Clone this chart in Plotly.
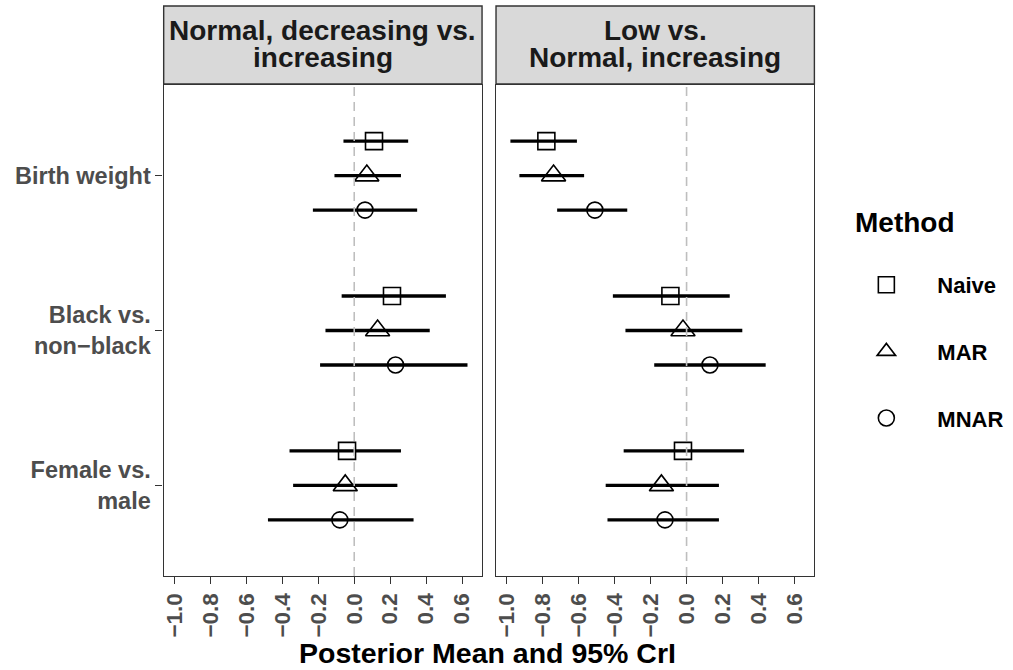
import plotly.graph_objects as go

# ---------------- data ----------------
methods = ["Naive", "MAR", "MNAR"]
covariates = ["Birth weight", "Black vs.<br>non\u2212black", "Female vs.<br>male"]
panels = ["Normal, decreasing vs.<br>increasing", "Low vs.<br>Normal, increasing"]

# Panel 1: Normal, decreasing vs. increasing  (order: Birth weight, Black, Female)
mean_p1_naive = [0.11, 0.21, -0.04]
lo_p1_naive = [-0.06, -0.07, -0.36]
hi_p1_naive = [0.30, 0.51, 0.26]
mean_p1_mar = [0.07, 0.13, -0.05]
lo_p1_mar = [-0.11, -0.16, -0.34]
hi_p1_mar = [0.26, 0.42, 0.24]
mean_p1_mnar = [0.06, 0.23, -0.08]
lo_p1_mnar = [-0.23, -0.19, -0.48]
hi_p1_mnar = [0.35, 0.63, 0.33]

# Panel 2: Low vs. Normal, increasing
mean_p2_naive = [-0.78, -0.09, -0.02]
lo_p2_naive = [-0.98, -0.41, -0.35]
hi_p2_naive = [-0.61, 0.24, 0.32]
mean_p2_mar = [-0.74, -0.02, -0.14]
lo_p2_mar = [-0.93, -0.34, -0.45]
hi_p2_mar = [-0.57, 0.31, 0.18]
mean_p2_mnar = [-0.51, 0.13, -0.12]
lo_p2_mnar = [-0.72, -0.18, -0.44]
hi_p2_mnar = [-0.33, 0.44, 0.18]

x_ticks = [-1.0, -0.8, -0.6, -0.4, -0.2, 0.0, 0.2, 0.4, 0.6]
x_tick_text = [("\u2212" if v < 0 else "") + f"{abs(v):.1f}" for v in x_ticks]

data = {
    0: {"Naive": (mean_p1_naive, lo_p1_naive, hi_p1_naive),
        "MAR": (mean_p1_mar, lo_p1_mar, hi_p1_mar),
        "MNAR": (mean_p1_mnar, lo_p1_mnar, hi_p1_mnar)},
    1: {"Naive": (mean_p2_naive, lo_p2_naive, hi_p2_naive),
        "MAR": (mean_p2_mar, lo_p2_mar, hi_p2_mar),
        "MNAR": (mean_p2_mnar, lo_p2_mnar, hi_p2_mnar)},
}

# ---------------- styling ----------------
W, H = 1013, 670
FONT = "Liberation Sans, Arial, Helvetica, sans-serif"
symbols = {"Naive": "square-open", "MAR": "triangle-up-open", "MNAR": "circle-open"}
sizes = {"Naive": 17, "MAR": 21, "MNAR": 16}
dodge = {"Naive": 0.2226, "MAR": 0.0, "MNAR": -0.2226}
cat_pos = [3, 2, 1]

def px_x(p):
    return p / W

def px_y(p):
    return 1 - p / H

panel_x = [(162, 481), (495, 814)]
panel_top, panel_bot = 85, 576
strip_top = 6

fig = go.Figure()

for pi in range(2):
    xa = "x" if pi == 0 else "x2"
    ya = "y" if pi == 0 else "y2"
    for m in methods:
        mean, lo, hi = data[pi][m]
        ys = [c + dodge[m] for c in cat_pos]
        fig.add_trace(go.Scatter(
            x=mean, y=ys, xaxis=xa, yaxis=ya, mode="markers",
            name=m, legendgroup=m, showlegend=(pi == 0),
            marker=dict(symbol=symbols[m], size=sizes[m], color="black",
                        line=dict(color="black", width=1.6)),
            error_x=dict(type="data", symmetric=False,
                         array=[h - v for h, v in zip(hi, mean)],
                         arrayminus=[v - l for v, l in zip(mean, lo)],
                         thickness=3.3, width=0, color="black"),
        ))

axis_common = dict(
    range=[-1.06, 0.711], showgrid=False, zeroline=False,
    showline=True, mirror=True, linecolor="#333333", linewidth=1.4,
    ticks="outside", ticklen=7, tickwidth=1.4, tickcolor="#333333",
    tickvals=x_ticks, ticktext=x_tick_text, tickangle=-90,
    tickfont=dict(family=FONT, size=22.5, color="#4D4D4D", weight="bold"),
)
yaxis_common = dict(
    range=[0.415, 3.585], showgrid=False, zeroline=False,
    showline=True, mirror=True, linecolor="#333333", linewidth=1.4,
    domain=[px_y(panel_bot), px_y(panel_top)],
)

fig.update_layout(
    width=W, height=H,
    margin=dict(l=0, r=0, t=0, b=0),
    paper_bgcolor="white", plot_bgcolor="white",
    xaxis=dict(axis_common, domain=[px_x(panel_x[0][0]), px_x(panel_x[0][1])], anchor="y"),
    xaxis2=dict(axis_common, domain=[px_x(panel_x[1][0]), px_x(panel_x[1][1])], anchor="y2"),
    yaxis=dict(yaxis_common, anchor="x", tickvals=cat_pos, ticktext=covariates,
               ticks="outside", ticklen=7, tickwidth=1.4, tickcolor="#333333",
               tickfont=dict(family=FONT, size=23.5, color="#4D4D4D", weight="bold")),
    yaxis2=dict(yaxis_common, anchor="x2", showticklabels=False, ticks=""),
    showlegend=True,
    legend=dict(
        x=px_x(835), y=px_y(264), xanchor="left", yanchor="top",
        font=dict(family=FONT, size=22, color="black", weight="bold"),
        tracegroupgap=35, itemwidth=92, bgcolor="rgba(0,0,0,0)",
    ),
)

# dashed zero reference lines (drawn above the intervals)
for xa, ya in (("x", "y"), ("x2", "y2")):
    fig.add_shape(type="line", xref=xa, yref=f"{ya} domain", x0=0, x1=0, y0=0, y1=1,
                  line=dict(color="#BEBEBE", width=1.6, dash="9px,6px"), layer="above")

# strips
for pi, (x0, x1) in enumerate(panel_x):
    fig.add_shape(type="rect", xref="paper", yref="paper",
                  x0=px_x(x0), x1=px_x(x1), y0=px_y(panel_top - 1), y1=px_y(strip_top),
                  fillcolor="#D9D9D9", line=dict(color="#333333", width=1.4), layer="below")
    lines = panels[pi].split("<br>")
    for li, (txt, yc) in enumerate(zip(lines, (30, 57))):
        fig.add_annotation(xref="paper", yref="paper", x=px_x((x0 + x1) / 2), y=px_y(yc),
                           text=txt, showarrow=False, xanchor="center", yanchor="middle",
                           font=dict(family=FONT, size=28, color="#1A1A1A", weight="bold"))

# axis title
fig.add_annotation(xref="paper", yref="paper", x=px_x(486), y=px_y(653),
                   text="Posterior Mean and 95% CrI", showarrow=False,
                   xanchor="center", yanchor="middle",
                   font=dict(family=FONT, size=28.5, color="black", weight="bold"))

# legend title
fig.add_annotation(xref="paper", yref="paper", x=px_x(853), y=px_y(222),
                   text="Method", showarrow=False, xanchor="left", yanchor="middle",
                   font=dict(family=FONT, size=28, color="black", weight="bold"))

fig.write_html("out.html")
